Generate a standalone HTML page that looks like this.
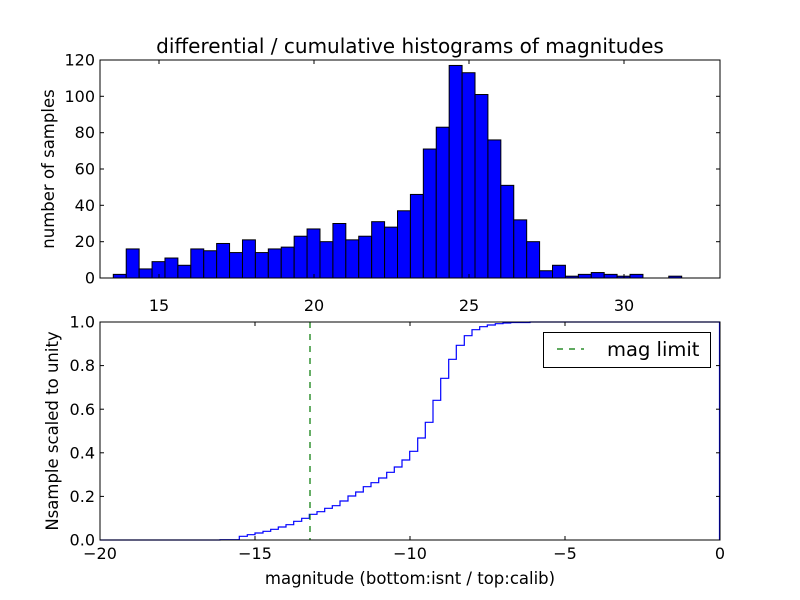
<!DOCTYPE html>
<html><head><meta charset="utf-8"><style>body{margin:0;background:#fff}svg{display:block}text{font-family:"DejaVu Sans","Liberation Sans",sans-serif}</style></head><body>
<svg width="800" height="600" xmlns="http://www.w3.org/2000/svg">
<rect width="800" height="600" fill="#fff"/>
<g id="bars" fill="#0000ff" stroke="#000" stroke-width="1"></g>
<rect x="100" y="60" width="620" height="218" fill="none" stroke="#000" stroke-width="1"/>
<g stroke="#000" stroke-width="1">
<line x1="100" y1="278" x2="104" y2="278"/><line x1="100" y1="241.7" x2="104" y2="241.7"/><line x1="100" y1="205.3" x2="104" y2="205.3"/><line x1="100" y1="169" x2="104" y2="169"/><line x1="100" y1="132.7" x2="104" y2="132.7"/><line x1="100" y1="96.3" x2="104" y2="96.3"/>
<line x1="720" y1="241.7" x2="716" y2="241.7"/><line x1="720" y1="205.3" x2="716" y2="205.3"/><line x1="720" y1="169" x2="716" y2="169"/><line x1="720" y1="132.7" x2="716" y2="132.7"/><line x1="720" y1="96.3" x2="716" y2="96.3"/>
<line x1="159" y1="278" x2="159" y2="274"/><line x1="314" y1="278" x2="314" y2="274"/><line x1="469" y1="278" x2="469" y2="274"/><line x1="624" y1="278" x2="624" y2="274"/>
<line x1="159" y1="60" x2="159" y2="64"/><line x1="314" y1="60" x2="314" y2="64"/><line x1="469" y1="60" x2="469" y2="64"/><line x1="624" y1="60" x2="624" y2="64"/>
</g>
<g font-size="16" text-anchor="end">
<text x="95" y="283.5">0</text><text x="95" y="247">20</text><text x="95" y="211">40</text><text x="95" y="174.5">60</text><text x="95" y="138">80</text><text x="95" y="102">100</text><text x="95" y="65.5">120</text>
</g>
<g font-size="16" text-anchor="middle">
<text x="159" y="311">15</text><text x="314" y="311">20</text><text x="469" y="311">25</text><text x="624" y="311">30</text>
</g>
<text x="410" y="53" font-size="20" text-anchor="middle">differential / cumulative histograms of magnitudes</text>
<text transform="translate(54,169) rotate(-90)" font-size="16.5" text-anchor="middle">number of samples</text>

<polyline fill="none" stroke="#0000ff" stroke-width="1.2" points="100,540 220,540 220,539.7 239.3,539.7 239.3,536.3 247.3,536.3 247.3,534.7 255,534.7 255,533 263,533 263,531.3 270.7,531.3 270.7,529.3 278.3,529.3 278.3,527 286,527 286,524.7 293.7,524.7 293.7,521.3 301.7,521.3 301.7,518.3 309.3,518.3 309.3,514.3 317,514.3 317,511.7 324.7,511.7 324.7,508.3 332.3,508.3 332.3,505.7 340,505.7 340,501 348,501 348,496 355.7,496 355.7,492 363.3,492 363.3,486.7 371,486.7 371,482.7 378.7,482.7 378.7,478 386.7,478 386.7,472.3 394.3,472.3 394.3,467 402,467 402,460 409.7,460 409.7,451.3 417.7,451.3 417.7,438 425.3,438 425.3,422.3 433,422.3 433,400.3 440.7,400.3 440.7,378.3 448.7,378.3 448.7,359.3 456.3,359.3 456.3,345.3 464.3,345.3 464.3,335.7 472,335.7 472,329.7 479.7,329.7 479.7,326.7 487.3,326.7 487.3,325 495.3,325 495.3,323.7 503,323.7 503,323 510.7,323 510.7,322.5 530,322.5 530,322 719.5,322 719.5,540"/>
<line x1="310" y1="322" x2="310" y2="540" stroke="#007700" stroke-width="1.2" stroke-dasharray="6,6"/>
<rect x="100" y="322" width="620" height="218" fill="none" stroke="#000" stroke-width="1"/>
<g stroke="#000" stroke-width="1">
<line x1="100" y1="496.4" x2="104" y2="496.4"/><line x1="100" y1="452.8" x2="104" y2="452.8"/><line x1="100" y1="409.2" x2="104" y2="409.2"/><line x1="100" y1="365.6" x2="104" y2="365.6"/>
<line x1="720" y1="496.4" x2="716" y2="496.4"/><line x1="720" y1="452.8" x2="716" y2="452.8"/><line x1="720" y1="409.2" x2="716" y2="409.2"/><line x1="720" y1="365.6" x2="716" y2="365.6"/>
<line x1="255" y1="540" x2="255" y2="536"/><line x1="410" y1="540" x2="410" y2="536"/><line x1="565" y1="540" x2="565" y2="536"/>
<line x1="255" y1="322" x2="255" y2="326"/><line x1="410" y1="322" x2="410" y2="326"/><line x1="565" y1="322" x2="565" y2="326"/>
</g>
<g font-size="16" text-anchor="end">
<text x="95" y="545.5">0.0</text><text x="95" y="502">0.2</text><text x="95" y="458.5">0.4</text><text x="95" y="415">0.6</text><text x="95" y="371">0.8</text><text x="95" y="327.5">1.0</text>
</g>
<g font-size="16" text-anchor="middle">
<text x="100" y="559">−20</text><text x="255" y="559">−15</text><text x="410" y="559">−10</text><text x="565" y="559">−5</text><text x="720" y="559">0</text>
</g>
<text x="410" y="584" font-size="16.5" text-anchor="middle">magnitude (bottom:isnt / top:calib)</text>
<text transform="translate(58,431) rotate(-90)" font-size="16.5" text-anchor="middle">Nsample scaled to unity</text>
<rect x="543.5" y="332.5" width="167" height="35" fill="#fff" stroke="#000" stroke-width="1"/>
<line x1="557" y1="349" x2="584" y2="349" stroke="#007700" stroke-width="1.2" stroke-dasharray="6,6"/>
<text x="607" y="356" font-size="19.5">mag limit</text>
</svg>
<script>
var h=[2,16,5,9,11,7,16,15,19,14,21,14,16,17,23,27,20,30,21,23,31,28,37,46,71,83,117,113,101,76,51,32,20,4,7,1,2,3,2,1,2,0,0,1];
var g=document.getElementById('bars'),w=12.918,s='';
for(var i=0;i<h.length;i++){if(!h[i])continue;var x=113.3+i*w,hh=h[i]*218/120;
s+='<rect x="'+x.toFixed(2)+'" y="'+(278-hh).toFixed(2)+'" width="'+w.toFixed(2)+'" height="'+hh.toFixed(2)+'"/>';}
g.innerHTML=s;
</script>
</body></html>
